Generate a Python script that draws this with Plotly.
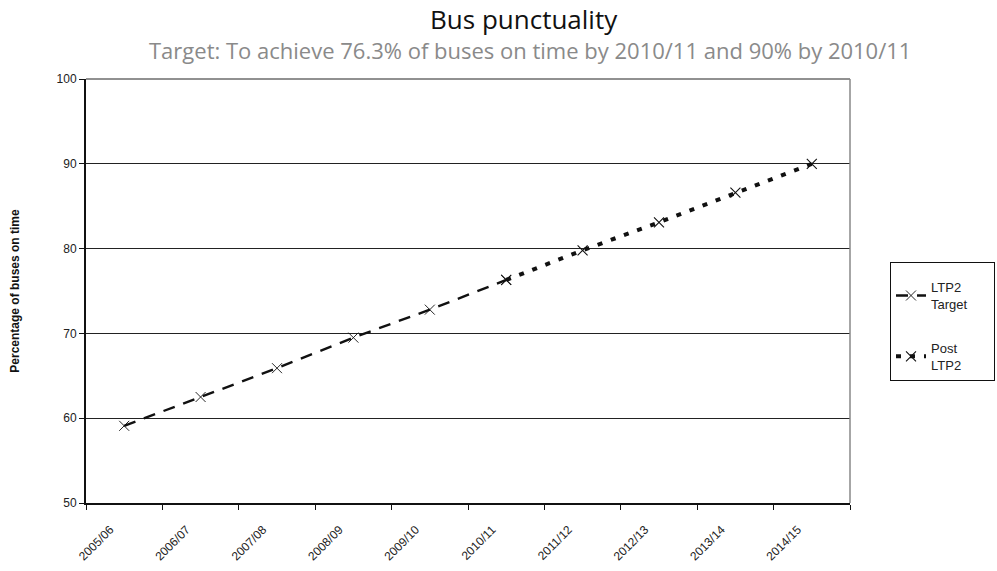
import plotly.graph_objects as go

# Financial years on the category axis
years = ["2005/06", "2006/07", "2007/08", "2008/09", "2009/10",
         "2010/11", "2011/12", "2012/13", "2013/14", "2014/15"]

# LTP2 target trajectory (2005/06 to 2010/11)
ltp2_years = years[:6]
ltp2_target = [59.1, 62.5, 65.9, 69.5, 72.8, 76.3]

# Post-LTP2 trajectory (2010/11 to 2014/15)
post_years = years[5:]
post_ltp2 = [76.3, 79.8, 83.1, 86.6, 90.0]

NBSP = "\u00a0"

fig = go.Figure()

fig.add_trace(go.Scatter(
    x=ltp2_years, y=ltp2_target, name="LTP2<br>Target" + NBSP * 6,
    legendgroup="ltp2",
    mode="lines+markers",
    line=dict(color="#111111", width=2.4, dash="12px,9px"),
    marker=dict(symbol="x-thin-open", size=10,
                line=dict(color="#666666", width=0.9)),
))

fig.add_trace(go.Scatter(
    x=post_years, y=post_ltp2, name="Post<br>LTP2",
    legendgroup="post",
    mode="lines+markers",
    line=dict(color="#111111", width=4, dash="5px,9px"),
    marker=dict(symbol="x-thin-open", size=10,
                line=dict(color="#333333", width=1.1)),
))

# Top and right-hand edges of the plot area
fig.add_shape(type="line", xref="paper", yref="paper",
              x0=0, x1=1, y0=1, y1=1,
              line=dict(color="#222222", width=1))
fig.add_shape(type="line", xref="paper", yref="paper",
              x0=1, x1=1, y0=0, y1=1,
              line=dict(color="#888888", width=1.5))

fig.add_annotation(
    text="Bus punctuality", xref="paper", yref="paper",
    x=(524 - 86) / 764, y=(503 - 19) / 424, xanchor="center", yanchor="middle",
    showarrow=False, font=dict(family="Open Sans", size=26, color="#111111"))
fig.add_annotation(
    text="Target: To achieve 76.3% of buses on time by 2010/11 and 90% by 2010/11",
    xref="paper", yref="paper",
    x=(530 - 86) / 764, y=(503 - 50) / 424, xanchor="center", yanchor="middle",
    showarrow=False, font=dict(family="Open Sans", size=22, color="#8a8a8a"))

fig.update_layout(
    width=997, height=571,
    margin=dict(l=86, r=147, t=79, b=68),
    paper_bgcolor="white", plot_bgcolor="white",
    font=dict(family="Liberation Sans, Arial", size=12, color="#222222"),
    showlegend=True,
    legend=dict(
        xref="container", yref="container",
        x=890 / 997, y=1 - 262 / 571, xanchor="left", yanchor="top",
        bordercolor="#111111", borderwidth=1, bgcolor="white",
        font=dict(family="Liberation Sans, Arial", size=13, color="#222222"),
        tracegroupgap=24, itemwidth=30,
        title=dict(text=" ", font=dict(size=7)),
    ),
    xaxis=dict(
        type="category", categoryorder="array", categoryarray=years,
        range=[-0.5, 9.5], automargin=False,
        showline=True, linecolor="#111111", linewidth=2,
        ticks="outside", tickson="boundaries", ticklen=5,
        tickcolor="#111111", tickwidth=1,
        tickangle=-45, showgrid=False,
        tickfont=dict(size=12),
        ticklabelstandoff=13, ticklabelshift=-14,
    ),
    yaxis=dict(
        range=[50, 100], dtick=10,
        showline=True, linecolor="#111111", linewidth=2,
        ticks="outside", ticklen=5, tickcolor="#111111",
        showgrid=True, gridcolor="#222222", gridwidth=1,
        zeroline=False,
        tickfont=dict(size=12),
        title=dict(text="<b>Percentage of buses on time</b>",
                   font=dict(size=12, color="#111111"), standoff=34),
    ),
)

fig.write_html("out.html")
